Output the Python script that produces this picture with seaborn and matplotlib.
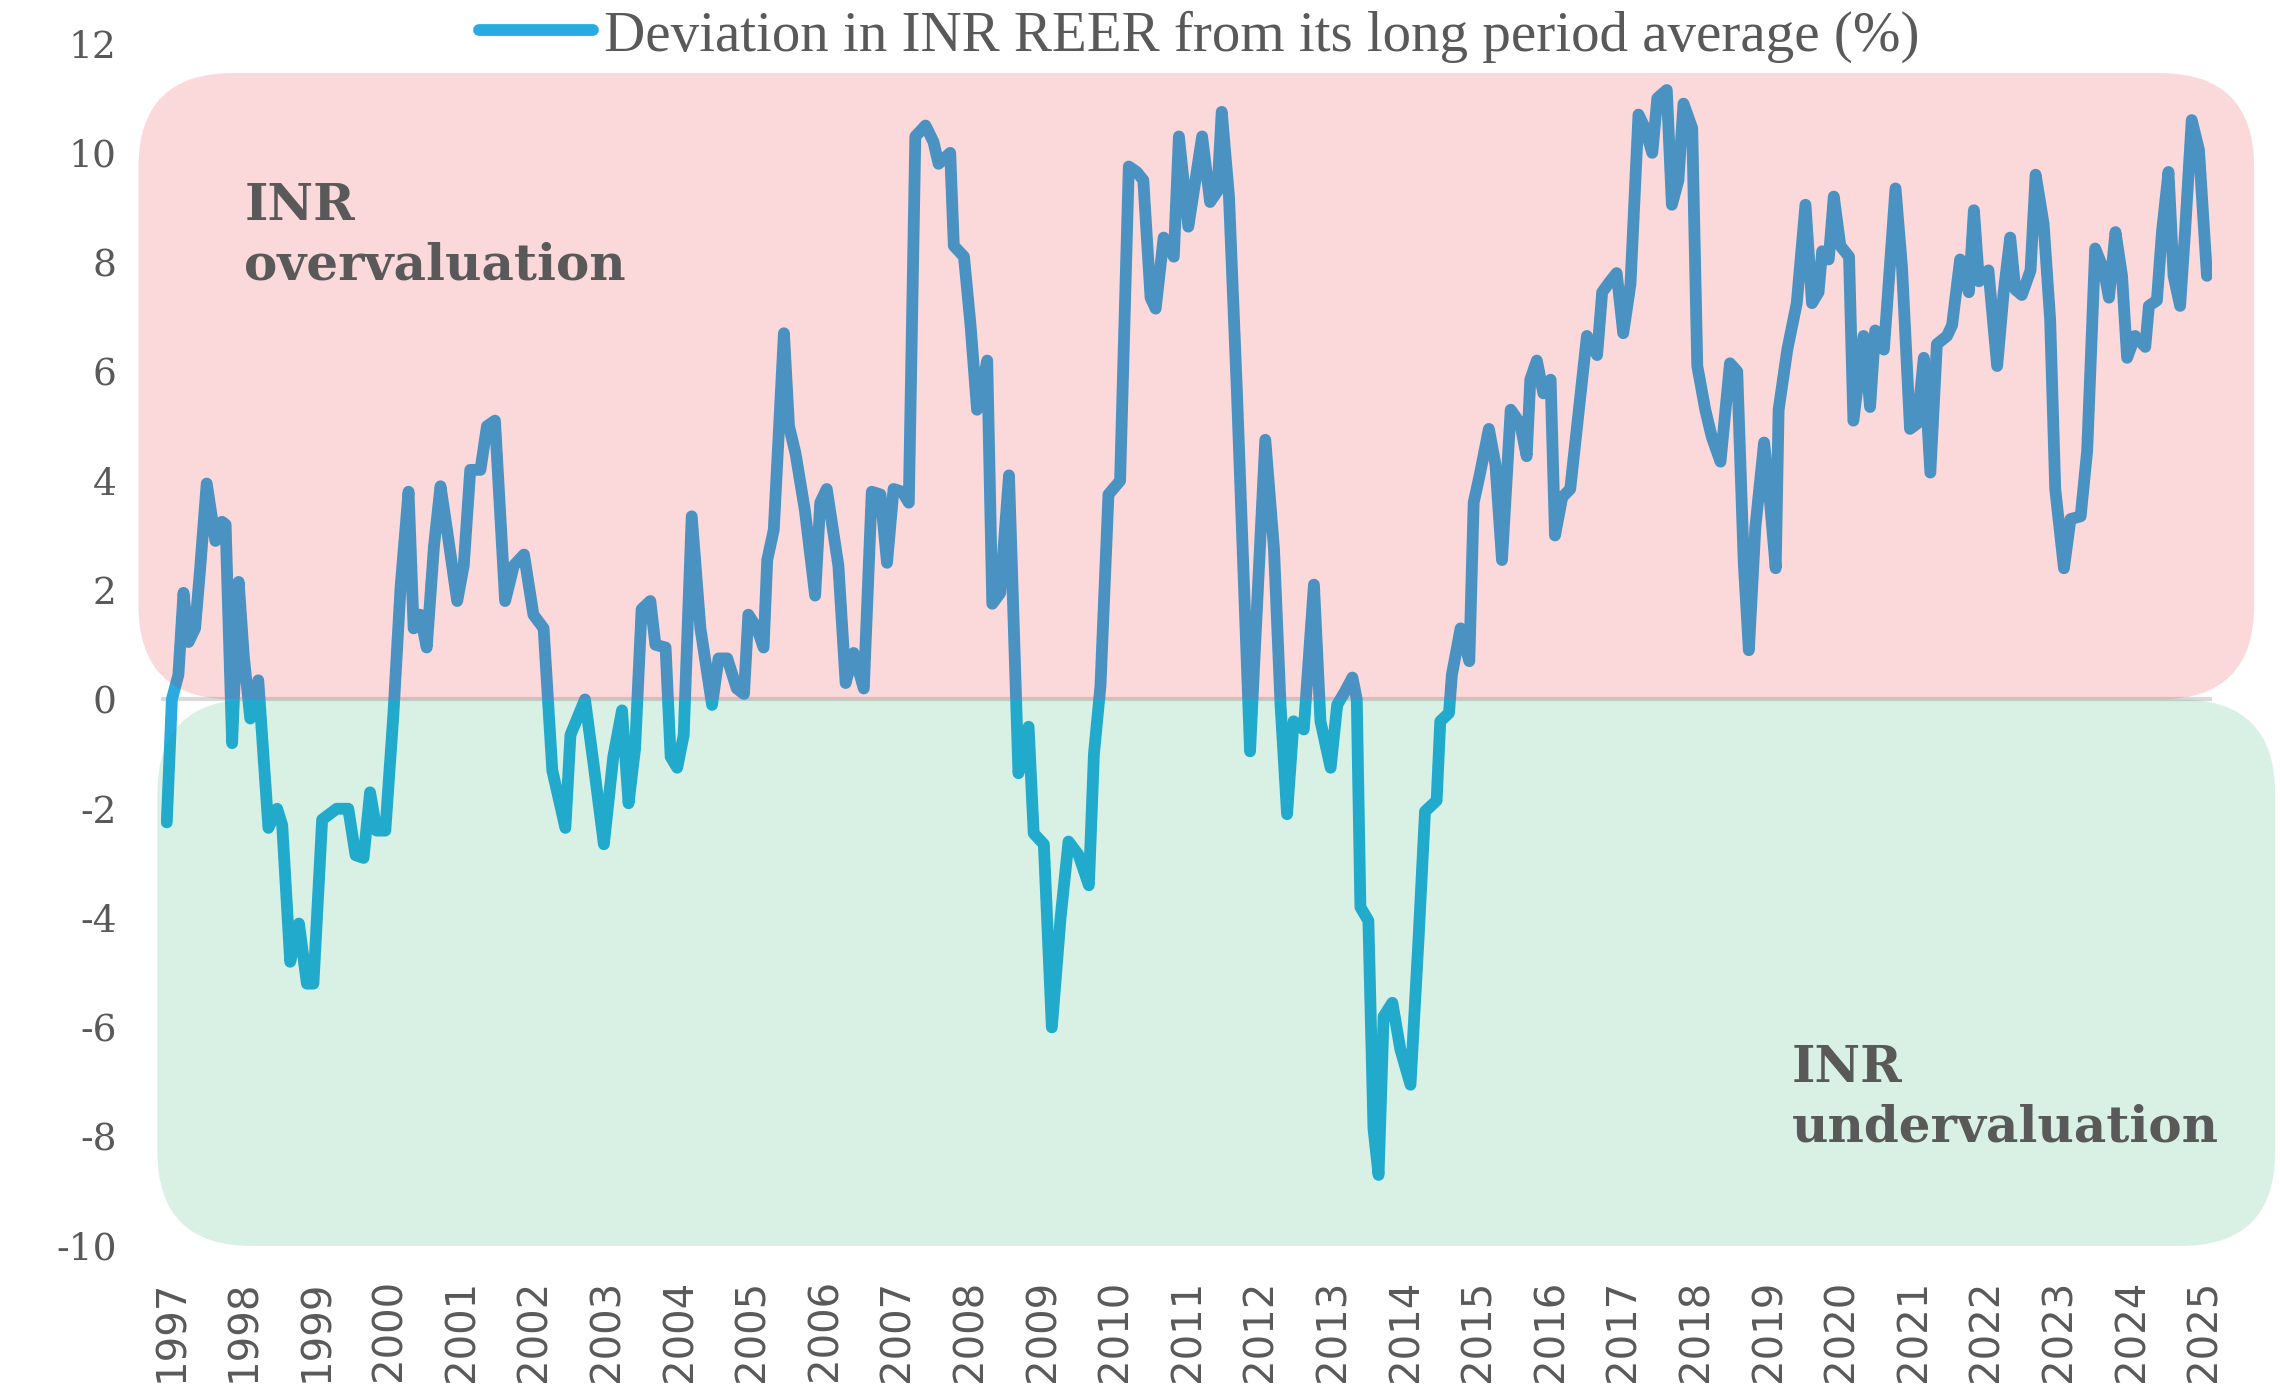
import pandas as pd
import matplotlib.pyplot as plt
from matplotlib.patches import FancyBboxPatch
import seaborn as sns

# monthly-ish readings of the deviation series (decimal year, %)
year_pos = [
    1996.93, 1997.00, 1997.09, 1997.16, 1997.23, 1997.32, 1997.39, 1997.48, 1997.60, 1997.69,
    1997.74, 1997.83, 1997.92, 1997.99, 1998.08, 1998.19, 1998.33, 1998.45, 1998.52, 1998.63,
    1998.75, 1998.86, 1998.95, 1999.07, 1999.27, 1999.43, 1999.53, 1999.64, 1999.73, 1999.82,
    1999.94, 2000.05, 2000.15, 2000.26, 2000.33, 2000.42, 2000.51, 2000.61, 2000.70, 2000.79,
    2000.93, 2001.02, 2001.11, 2001.25, 2001.34, 2001.45, 2001.59, 2001.71, 2001.85, 2001.98,
    2002.12, 2002.24, 2002.42, 2002.49, 2002.69, 2002.81, 2002.95, 2003.08, 2003.20, 2003.29,
    2003.38, 2003.47, 2003.59, 2003.66, 2003.80, 2003.87, 2003.96, 2004.05, 2004.16, 2004.28,
    2004.44, 2004.53, 2004.65, 2004.78, 2004.88, 2004.94, 2005.06, 2005.15, 2005.20, 2005.29,
    2005.43, 2005.50, 2005.59, 2005.72, 2005.86, 2005.93, 2006.02, 2006.18, 2006.28, 2006.39,
    2006.53, 2006.64, 2006.76, 2006.85, 2006.94, 2007.06, 2007.15, 2007.24, 2007.38, 2007.49,
    2007.56, 2007.72, 2007.77, 2007.91, 2008.00, 2008.09, 2008.23, 2008.30, 2008.41, 2008.53,
    2008.66, 2008.80, 2008.87, 2009.01, 2009.12, 2009.24, 2009.35, 2009.49, 2009.63, 2009.70,
    2009.79, 2009.90, 2010.06, 2010.18, 2010.29, 2010.38, 2010.48, 2010.55, 2010.66, 2010.80,
    2010.87, 2011.00, 2011.19, 2011.30, 2011.40, 2011.46, 2011.56, 2011.67, 2011.85, 2011.92,
    2012.06, 2012.18, 2012.27, 2012.36, 2012.45, 2012.59, 2012.73, 2012.82, 2012.96, 2013.05,
    2013.16, 2013.26, 2013.32, 2013.37, 2013.48, 2013.55, 2013.62, 2013.69, 2013.81, 2013.92,
    2014.06, 2014.17, 2014.26, 2014.42, 2014.47, 2014.59, 2014.63, 2014.75, 2014.87, 2014.93,
    2015.02, 2015.14, 2015.23, 2015.32, 2015.44, 2015.57, 2015.66, 2015.71, 2015.80, 2015.89,
    2015.99, 2016.05, 2016.15, 2016.26, 2016.35, 2016.49, 2016.63, 2016.70, 2016.81, 2016.90,
    2016.99, 2017.09, 2017.20, 2017.29, 2017.39, 2017.46, 2017.59, 2017.66, 2017.75, 2017.82,
    2017.94, 2018.01, 2018.12, 2018.21, 2018.33, 2018.46, 2018.56, 2018.65, 2018.72, 2018.81,
    2018.93, 2018.99, 2019.09, 2019.13, 2019.25, 2019.38, 2019.50, 2019.59, 2019.68, 2019.73,
    2019.82, 2019.89, 2019.98, 2020.10, 2020.16, 2020.30, 2020.39, 2020.46, 2020.58, 2020.74,
    2020.83, 2020.94, 2021.04, 2021.13, 2021.22, 2021.31, 2021.45, 2021.52, 2021.63, 2021.75,
    2021.82, 2021.89, 2022.02, 2022.14, 2022.23, 2022.32, 2022.39, 2022.48, 2022.60, 2022.67,
    2022.78, 2022.87, 2022.94, 2023.06, 2023.15, 2023.29, 2023.38, 2023.49, 2023.61, 2023.68,
    2023.77, 2023.86, 2023.93, 2024.04, 2024.18, 2024.23, 2024.34, 2024.41, 2024.50, 2024.57,
    2024.66, 2024.73, 2024.82, 2024.92, 2025.03,
]
deviation = [
    -2.25, 0.0, 0.45, 1.95, 1.05, 1.3, 2.4, 3.95, 2.9, 3.25,
    3.2, -0.8, 2.15, 0.8, -0.35, 0.35, -2.35, -2.0, -2.3, -4.8,
    -4.1, -5.2, -5.2, -2.2, -2.0, -2.0, -2.85, -2.9, -1.7, -2.4,
    -2.4, -0.3, 2.05, 3.8, 1.3, 1.55, 0.95, 2.8, 3.9, 3.1,
    1.8, 2.45, 4.2, 4.2, 5.0, 5.1, 1.8, 2.45, 2.65, 1.55,
    1.3, -1.3, -2.35, -0.65, 0.0, -1.2, -2.65, -1.05, -0.2, -1.9,
    -0.9, 1.65, 1.8, 1.0, 0.95, -1.05, -1.25, -0.65, 3.35, 1.3,
    -0.1, 0.75, 0.75, 0.2, 0.1, 1.55, 1.3, 0.95, 2.55, 3.1,
    6.7, 5.0, 4.5, 3.45, 1.9, 3.6, 3.85, 2.45, 0.3, 0.85,
    0.2, 3.8, 3.75, 2.5, 3.85, 3.8, 3.6, 10.3, 10.5, 10.2,
    9.8, 10.0, 8.3, 8.1, 6.85, 5.3, 6.2, 1.75, 1.95, 4.1,
    -1.35, -0.5, -2.45, -2.65, -6.0, -4.0, -2.6, -2.85, -3.4, -1.0,
    0.25, 3.75, 4.0, 9.75, 9.65, 9.5, 7.35, 7.15, 8.45, 8.1,
    10.3, 8.65, 10.3, 9.1, 9.3, 10.75, 9.2, 5.6, -0.95, 1.0,
    4.75, 2.75, -0.1, -2.1, -0.4, -0.55, 2.1, -0.4, -1.25, -0.1,
    0.15, 0.4, 0.0, -3.8, -4.05, -7.85, -8.7, -5.8, -5.55, -6.4,
    -7.05, -4.4, -2.05, -1.85, -0.4, -0.25, 0.45, 1.3, 0.7, 3.6,
    4.15, 4.95, 4.3, 2.55, 5.3, 5.05, 4.45, 5.85, 6.2, 5.6,
    5.85, 3.0, 3.7, 3.85, 4.95, 6.65, 6.3, 7.45, 7.65, 7.8,
    6.7, 7.6, 10.7, 10.45, 10.0, 11.0, 11.15, 9.05, 9.5, 10.9,
    10.45, 6.1, 5.3, 4.8, 4.35, 6.15, 6.0, 2.5, 0.9, 3.15,
    4.7, 3.95, 2.4, 5.3, 6.4, 7.25, 9.05, 7.25, 7.45, 8.2,
    8.05, 9.2, 8.3, 8.1, 5.1, 6.65, 5.35, 6.75, 6.4, 9.35,
    7.9, 4.95, 5.05, 6.25, 4.15, 6.5, 6.65, 6.85, 8.05, 7.45,
    8.95, 7.65, 7.85, 6.1, 7.45, 8.45, 7.5, 7.4, 7.85, 9.6,
    8.7, 6.95, 3.85, 2.4, 3.3, 3.35, 4.55, 8.25, 7.85, 7.35,
    8.55, 7.75, 6.25, 6.65, 6.45, 7.2, 7.3, 8.55, 9.65, 7.75,
    7.2, 8.6, 10.6, 10.05, 7.75,
]
year_ticks = list(range(1997, 2026))
y_ticks = list(range(-10, 13, 2))
series_name = "Deviation in INR REER from its long period average (%)"

sns.set_style("white")
plt.rcParams['font.family'] = ['DejaVu Serif']

df = pd.DataFrame({"year": year_pos, "dev": deviation})

fig = plt.figure(figsize=(22.8, 14), dpi=100)
ax = fig.add_axes([0.0706, 0.11, 0.8996, 0.8589])

ax.axhline(0, color='#d9d9d9', lw=3, zorder=1)
sns.lineplot(data=df, x="year", y="dev", color='#29abe2', lw=8.5, ax=ax,
             zorder=2, label=series_name)
for ln in ax.lines[1:]:
    ln.set_solid_capstyle('round')
    ln.set_solid_joinstyle('round')

# shaded over/under valuation zones (drawn on top, translucent)
asp = 72.6 / 54.65
pink = FancyBboxPatch((1996.54, 0), 2025.68 - 1996.54, 11.46,
                      boxstyle="round,pad=0,rounding_size=1.3", mutation_aspect=asp,
                      fc='#ed1c24', alpha=0.17, ec='none', clip_on=False, zorder=3)
green = FancyBboxPatch((1996.8, -10), 2025.97 - 1996.8, 10,
                       boxstyle="round,pad=0,rounding_size=1.3", mutation_aspect=asp,
                       fc='#00a651', alpha=0.15, ec='none', clip_on=False, zorder=3)
ax.add_patch(pink)
ax.add_patch(green)

ax.text(1998.0, 9.47, "INR\novervaluation", fontsize=36, fontweight='bold',
        color='#595959', va='top', ha='left', linespacing=1.28, zorder=5)
ax.text(2019.31, -6.3, "INR\nundervaluation", fontsize=36, fontweight='bold',
        color='#595959', va='top', ha='left', linespacing=1.28, zorder=5)

ax.set_xlim(1996.85, 2025.1)
ax.set_ylim(-10, 12)
ax.set_xticks(year_ticks)
ax.set_xticklabels([str(y) for y in year_ticks], rotation=90, fontsize=29,
                   family='DejaVu Sans', color='#595959')
ax.set_yticks(y_ticks)
ax.set_yticklabels([str(v) for v in y_ticks], fontsize=27, color='#595959')
ax.tick_params(axis='x', length=0, pad=24)
ax.tick_params(axis='y', length=0, pad=32)
ax.set_xlabel("")
ax.set_ylabel("")
for s in ax.spines.values():
    s.set_visible(False)

leg = ax.legend(loc='center', bbox_to_anchor=(0.526, 0.974), bbox_transform=fig.transFigure,
                frameon=False, prop={'family': 'Liberation Serif', 'size': 41},
                handlelength=2.0, handletextpad=0.2)
for t in leg.get_texts():
    t.set_color('#595959')

fig.savefig("out.png", dpi=100)
plt.close()
